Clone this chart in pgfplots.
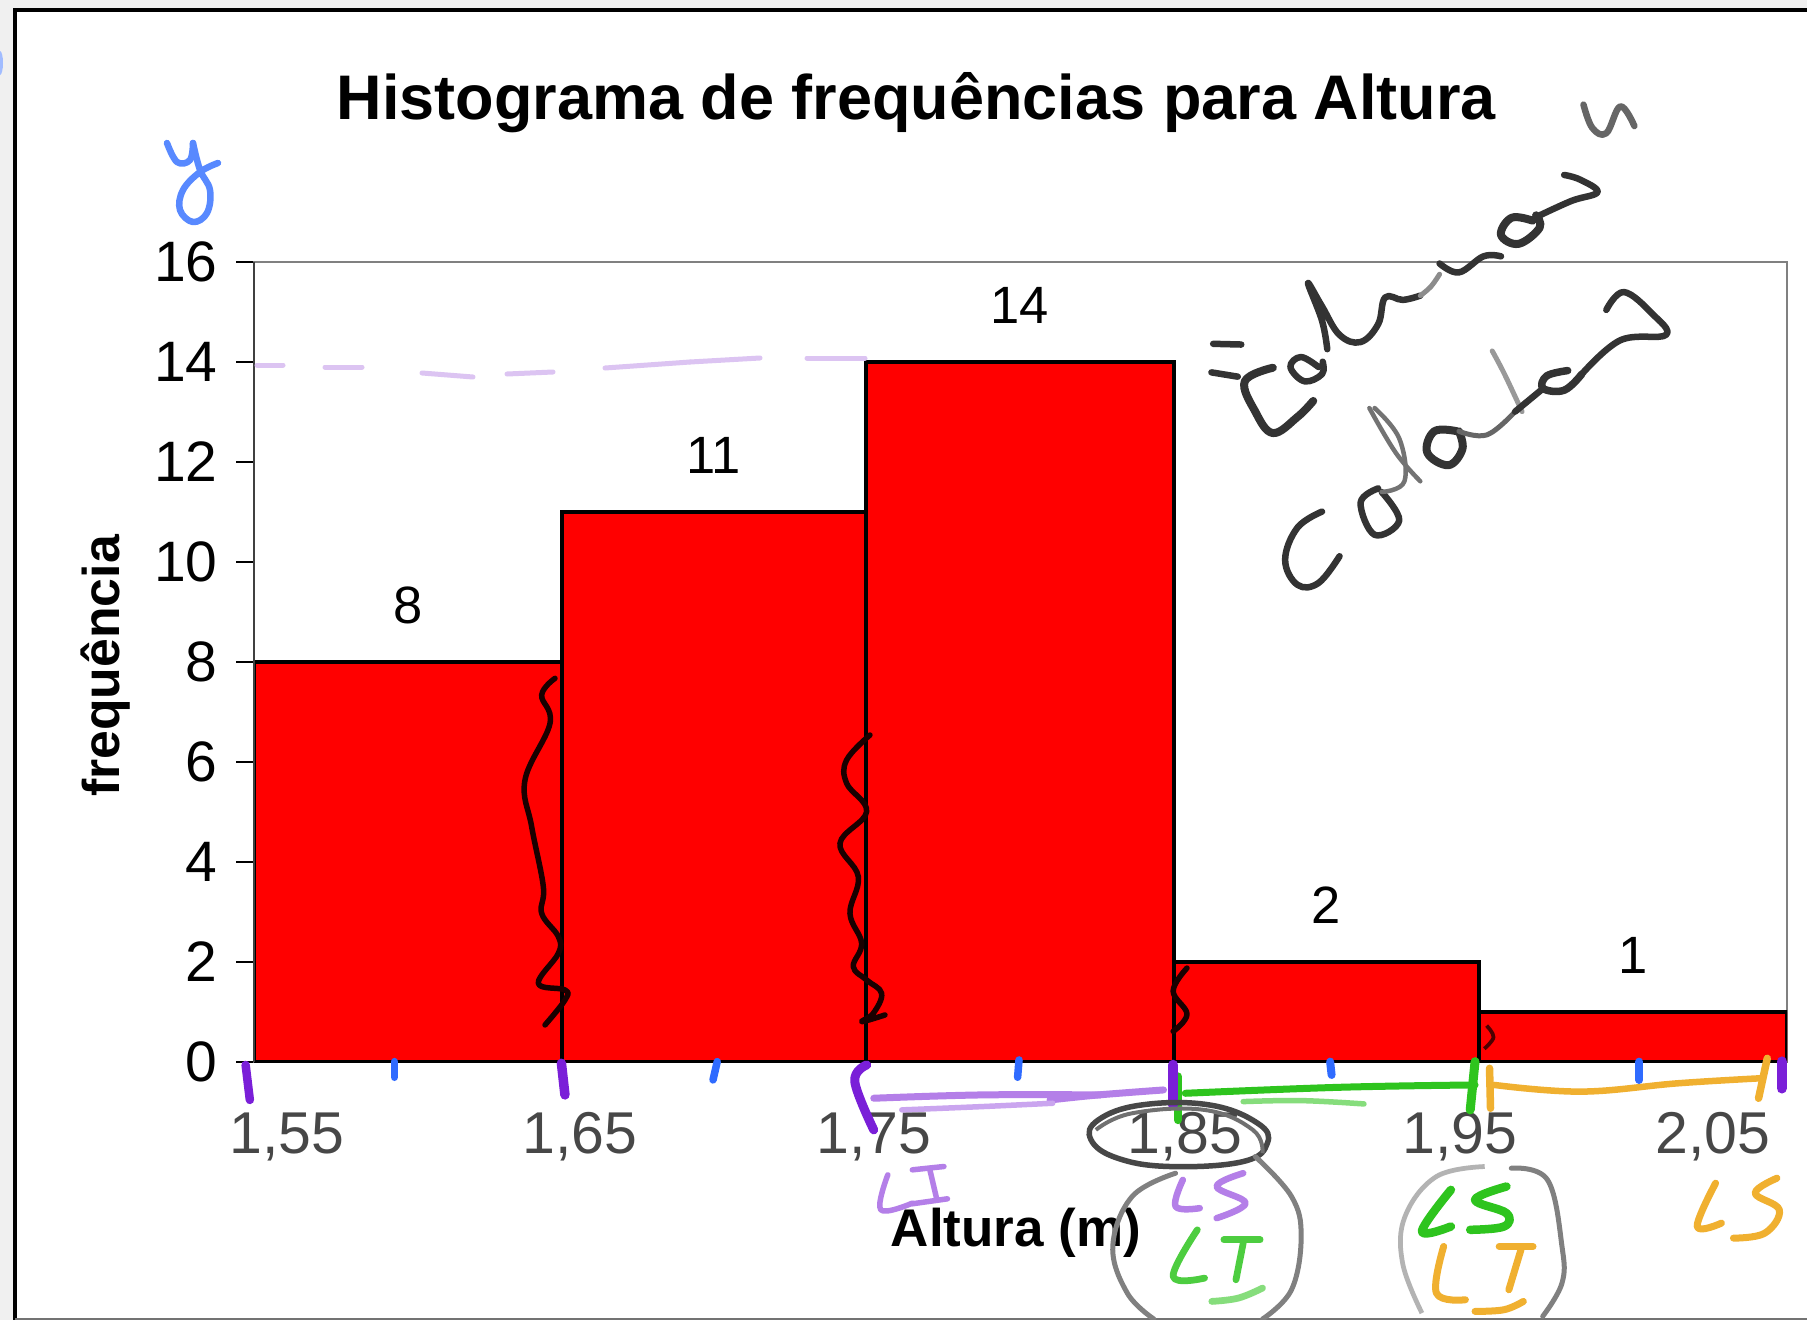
\documentclass[border=0pt]{standalone}
\usepackage{fontspec}
\setmainfont{Liberation Sans}
\usepackage{pgfplots}
\pgfplotsset{compat=1.18}
\definecolor{hblue}{HTML}{2F6BFF}
\definecolor{hpurple}{HTML}{7A1FD8}
\definecolor{hlpurple}{HTML}{B47FE8}
\definecolor{hvlpurple}{HTML}{DCC4F2}
\definecolor{hgreen}{HTML}{2EC41E}
\definecolor{hlgreen}{HTML}{86DD7C}
\definecolor{horange}{HTML}{F0B030}
\definecolor{hgray}{HTML}{333333}
\definecolor{hmid}{HTML}{808080}
\newcommand{\inkp}[2]{\draw[line join=round,#1] plot[smooth,tension=0.65] coordinates {#2};}
\begin{document}
\begin{tikzpicture}[x=0.4pt,y=-0.4pt]
\path[use as bounding box] (0,0) rectangle (1807,1320);
\fill[white] (0,0) rectangle (1807,1320);
\fill[black!6] (0,0) rectangle (13,1320);
\fill[black!6] (0,0) rectangle (1807,8);
\coordinate (A) at (254,1062);
\begin{axis}[
  at={(A)},anchor=south west,
  scale only axis,width=613.2pt,height=320pt,
  xmin=1.55,xmax=2.05,ymin=0,ymax=16,
  axis line style={draw=hmid,line width=1pt},
  ytick={0,2,...,16},
  xtick={1.5607,1.6563,1.7522,1.8537,1.9433,2.0258},
  xticklabels={{1,55},{1,65},{1,75},{1,85},{1,95},{2,05}},
  xtick pos=bottom,ytick pos=left,
  tick align=outside,
  x tick style={draw=none},
  y tick style={black,line width=0.7pt},
  major tick length=7pt,
  xticklabel style={font=\fontsize{23.6}{24}\selectfont,text=hgray!90,anchor=base,yshift=-29.5pt,inner sep=0pt},
  yticklabel style={font=\fontsize{22.8}{24}\selectfont,text=black,anchor=east,inner sep=0pt,xshift=-7.4pt},
  /pgf/number format/assume math mode=true,
  title={Histograma de frequências para Altura},
  title style={font=\fontsize{25.2}{26}\bfseries\selectfont,at={(axis description cs:0.432,1.18)},anchor=center,inner sep=0pt},
  xlabel={Altura (m)},
  xlabel style={font=\fontsize{21.2}{22}\bfseries\selectfont,at={(axis description cs:0.497,-0.214)},anchor=center,inner sep=0pt},
  ylabel={frequência},
  ylabel style={font=\fontsize{20.7}{21}\bfseries\selectfont,at={(axis description cs:-0.0968,0.495)},anchor=center,inner sep=0pt},
]
\addplot[ybar interval,fill=red,draw=black,line width=1.7pt]
  coordinates {(1.55,8) (1.6504,11) (1.7495,14) (1.85,2) (1.9495,1) (2.05,1)};
\addplot[draw=none,mark=none,nodes near coords,point meta=y,
  every node near coord/.style={font=\fontsize{21}{21}\selectfont,text=black,anchor=center,yshift=22.6pt,
  /pgf/number format/.cd,fixed,precision=0,assume math mode=true}]
  coordinates {(1.6002,8) (1.7,11) (1.7998,14) (1.8997,2) (1.9998,1)};
\end{axis}
% frame
\draw[black,line width=1.7pt] (15,1320) -- (15,10) -- (1807,10);
\draw[black!55,line width=0.8pt] (15,1318.5) -- (1807,1318.5);
\draw[black!75,line width=0.9pt] (254,262) -- (254,1062);
% y, blue
\inkp{hblue!80,line width=2.6pt,line cap=round}{(167,143)(177,162)(190,160)(193,143)}
\inkp{hblue!80,line width=2.6pt,line cap=round}{(193,143)(200,170)(210,190)(207,213)(193,222)(180,210)(183,190)(200,172)(218,163)}
\fill[hblue!45] (0,63) ellipse (3 and 12);
% dashed light purple at 14
\foreach \a/\b/\c/\d in {257/365/283/365,325/367/362/367,422/373/473/377,507/374/553/372,605/368/690/362,690/362/760/358,807/358/865/358}
  \draw[hvlpurple,line width=2pt,line cap=round] (\a,\b) -- (\c,\d);
% black wavy lines on bars
\begin{scope}[shift={(500,660)},xscale=0.3333,yscale=0.3333]
\inkp{black!90!red,line width=2.2pt,line cap=round}{(165,55)(125,105)(150,190)(75,360)(95,500)(130,680)(125,760)(175,830)(175,880)(115,970)(195,990)(195,1020)(135,1095)}
\inkp{black!90!red,line width=2.2pt,line cap=round}{(1110,225)(1040,300)(1040,370)(1100,455)(1020,550)(1075,650)(1050,760)(1085,850)(1060,920)(1100,960)(1145,1000)(1120,1060)(1085,1085)(1155,1065)}
\end{scope}
\begin{scope}[xscale=1.1524,yscale=1.1524]
\inkp{black!90!red,line width=2.2pt,line cap=round}{(1030,840)(1018,860)(1030,880)(1018,895)}
\inkp{black!70!red,line width=1.5pt}{(1290,890)(1296,900)(1288,910)}
\end{scope}
% handwriting: colunas colados
\begin{scope}[shift={(1150,60)},xscale=0.351,yscale=0.357]
\tikzset{hw/.style={hgray,line width=2.6pt,line cap=round}}
\draw[hw] (180,795) -- (260,797);
\draw[hw] (175,875) -- (250,887);
\inkp{hw,line width=3.2pt}{(350,862)(270,900)(300,985)(350,1045)(420,1000)(465,955)}
\inkp{hw}{(480,860)(430,832)(400,860)(440,900)(490,880)(492,845)}
\inkp{hw}{(505,810)(490,730)(450,625)(490,690)(540,770)(600,790)(650,740)(670,665)(720,672)(770,660)}
\inkp{black!45,line width=2pt,line cap=round}{(770,660)(800,635)(825,600)}
\inkp{hw}{(825,570)(880,595)(950,550)(1000,550)}
\inkp{hw,line width=3.2pt}{(1090,450)(1030,442)(1000,490)(1050,515)(1110,470)(1100,435)}
\inkp{hw}{(1100,440)(1200,395)(1275,370)(1225,335)(1180,322)}
\inkp{black!60,line width=2.6pt,line cap=round}{(1235,125)(1260,190)(1300,205)(1340,130)(1380,185)}
\inkp{hw}{(490,1265)(420,1310)(385,1400)(420,1470)(480,1465)(540,1390)}
\inkp{hw}{(650,1200)(600,1240)(640,1330)(710,1290)(660,1210)}
\inkp{black!55,line width=1.8pt,line cap=round}{(770,1180)(700,1100)(625,975)}
\inkp{black!55,line width=1.8pt,line cap=round}{(640,975)(710,1060)(725,1180)(660,1210)}
\inkp{hw,line width=3.2pt}{(875,1040)(810,1040)(790,1100)(850,1135)(890,1090)(880,1040)}
\inkp{black!60,line width=2pt,line cap=round}{(880,1040)(960,1050)(1040,985)}
\inkp{black!40,line width=2pt,line cap=round}{(975,815)(1010,880)(1060,985)}
\inkp{hw}{(1040,985)(1120,920)}
\inkp{hw,line width=3pt}{(1190,870)(1130,885)(1120,920)(1180,925)(1230,880)}
\inkp{hw}{(1230,880)(1340,785)(1470,770)(1430,710)(1350,650)(1300,700)}
\end{scope}
% lower-right annotations in zoom coordinates
\begin{scope}[shift={(1050,1030)},xscale=0.483,yscale=0.333]
\tikzset{gc/.style={hmid,line width=2pt,line cap=round}}
\draw[hgreen,line width=3.4pt,line cap=round] (265,140) -- (265,270);
\draw[hpurple,line width=4.2pt,line cap=round] (255,105) -- (255,225);
\inkp{hgreen,line width=2.8pt,line cap=round}{(280,190)(600,172)(880,165)}
\inkp{hlgreen,line width=2.2pt,line cap=round}{(400,215)(520,212)(650,222)}
\draw[hgreen,line width=3.6pt,line cap=round] (880,95) -- (870,240);
\draw[horange,line width=3pt,line cap=round] (910,115) -- (912,235);
\inkp{horange,line width=2.6pt,line cap=round}{(920,165)(1100,185)(1300,160)(1470,145)}
\draw[horange,line width=3pt,line cap=round] (1485,85) -- (1467,205);
\draw[hpurple,line width=4.2pt,line cap=round] (1515,95) -- (1515,175);
\draw[hblue,line width=3.2pt,line cap=round] (580,95) -- (583,135);
\draw[hblue,line width=3.2pt,line cap=round] (1220,95) -- (1220,150);
\inkp{hlpurple,line width=2.8pt,line cap=round}{(0,210)(100,195)(235,180)}
% rings
\draw[hgray!90,line width=2.2pt] plot[smooth cycle,tension=0.7] coordinates {(100,270)(190,225)(330,225)(430,280)(450,340)(400,395)(250,410)(140,385)(85,330)};
\draw[hgray!70,line width=1.6pt] plot[smooth,tension=0.7] coordinates {(95,300)(170,250)(320,240)(420,300)(440,370)};
\inkp{gc}{(425,380)(500,500)(520,620)(500,780)(440,868)}
\inkp{gc}{(260,430)(170,500)(130,650)(160,790)(215,868)}
\inkp{gc}{(955,415)(1030,450)(1060,650)(1060,760)(1020,860)}
\inkp{hmid!60,line width=1.9pt}{(900,410)(800,440)(735,560)(730,700)(770,850)}
% LS LT letters
\tikzset{lp/.style={hlpurple,line width=2.6pt,line cap=round},lg/.style={hgreen!85,line width=2.7pt,line cap=round},lo/.style={horange,line width=2.8pt,line cap=round}}
\inkp{lp}{(275,450)(260,530)(310,535)}
\inkp{lp}{(400,430)(345,470)(405,520)(345,565)}
\inkp{lg}{(305,600)(255,740)(320,745)}
\draw[lg] (360,630) -- (435,630); \draw[lg] (400,640) -- (385,750);
\inkp{hlgreen,line width=2.7pt,line cap=round}{(335,815)(390,805)(440,775)}
\inkp{hgreen,line width=3.4pt,line cap=round}{(830,480)(770,605)(830,590)}
\inkp{hgreen,line width=3.4pt,line cap=round}{(945,470)(880,510)(945,550)(940,590)(870,600)}
\inkp{lo}{(815,650)(800,790)(860,810)}
\draw[lo] (930,650) -- (1000,650); \draw[lo] (975,660) -- (950,780);
\inkp{lo}{(880,845)(940,840)(980,815)}
\inkp{lo}{(1378,460)(1340,590)(1390,580)}
\inkp{lo}{(1505,445)(1460,490)(1510,540)(1480,610)(1415,625)}
\end{scope}
% lower-left annotations
\begin{scope}[shift={(0,1000)},xscale=0.7018,yscale=0.333]
\draw[hpurple,line width=3.4pt,line cap=round] (350,195) -- (356,300);
\draw[hpurple,line width=3.8pt,line cap=round] (800,190) -- (805,285);
\inkp{hpurple,line width=3.6pt,line cap=round}{(1235,195)(1218,245)(1245,390)}
\foreach \q/\r/\s/\t in {562/185/562/232,1022/185/1016/240,1452/180/1450/232}
  \draw[hblue,line width=3pt,line cap=round] (\q,\r) -- (\s,\t);
\inkp{hlpurple,line width=2.8pt,line cap=round}{(1245,295)(1400,285)(1568,285)}
\inkp{hlpurple!70,line width=2.2pt,line cap=round}{(1285,330)(1400,320)(1500,310)}
\inkp{hlpurple,line width=2.2pt,line cap=round}{(1265,525)(1255,630)(1300,610)}
\draw[hlpurple,line width=2.2pt,line cap=round] (1300,510) -- (1345,500);
\draw[hlpurple,line width=2.2pt,line cap=round] (1325,510) -- (1335,600);
\draw[hlpurple,line width=2.2pt,line cap=round] (1300,612) -- (1350,597);
\end{scope}
\end{tikzpicture}
\end{document}
